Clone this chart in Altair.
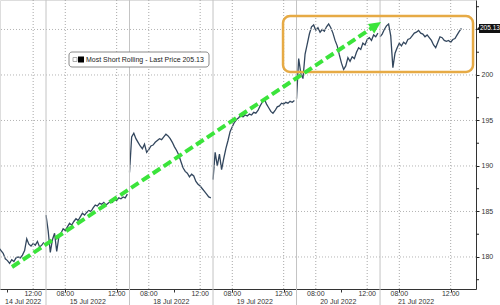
import altair as alt
import pandas as pd

# ---------------- data ----------------
day_labels = ["14 Jul 2022", "15 Jul 2022", "18 Jul 2022", "19 Jul 2022", "20 Jul 2022", "21 Jul 2022"]
first_times = ["09:20", "06:30", "06:30", "06:30", "06:30", "06:30"]
session_open = "06:30"
session_hours = 6.5
step_minutes = 10

px_jul14 = [181.0, 180.7, 180.4, 179.8, 179.6, 179.3, 179.7, 179.5, 179.9, 180.0, 179.9,
            180.2, 180.7, 182.0, 181.4, 181.2, 181.5, 181.3, 181.7, 181.1, 181.3, 181.6]
px_jul15 = [184.6, 182.9, 180.5, 181.9, 182.6, 180.6, 182.2, 182.6, 183.1, 182.9, 183.3,
            183.7, 183.5, 183.9, 184.2, 184.0, 184.4, 184.8, 184.6, 184.9, 185.1, 185.0,
            185.4, 185.7, 185.6, 185.9, 185.8, 186.0, 185.7, 185.9, 186.1, 186.0, 186.3,
            186.2, 186.5, 186.4, 186.6, 186.5, 186.9]
px_jul18 = [189.3, 193.2, 193.6, 193.0, 192.6, 192.2, 191.9, 192.4, 191.5, 191.8, 192.2,
            192.3, 192.6, 192.8, 193.0, 192.9, 193.2, 193.5, 193.3, 193.0, 192.6, 192.1,
            191.7, 191.2, 190.5, 189.8, 189.4, 189.2, 188.8, 189.1, 188.9, 188.3, 188.0,
            187.8, 187.5, 187.2, 186.9, 186.6, 186.5]
px_jul19 = [188.5, 191.5, 190.0, 191.3, 189.6, 190.8, 191.9, 192.8, 193.8, 194.3, 194.8,
            195.1, 195.3, 195.6, 195.4, 195.6, 195.5, 195.7, 195.6, 195.9, 195.8, 196.1,
            196.6, 197.0, 197.3, 196.8, 196.4, 196.0, 195.8, 196.1, 196.5, 196.6, 196.9,
            196.8, 197.0, 196.9, 197.1, 197.0, 197.2]
px_jul20 = [197.4, 201.8, 200.2, 199.6, 202.3, 203.4, 204.5, 205.3, 205.5, 204.9, 205.2,
            204.7, 205.0, 204.8, 205.3, 205.6, 205.2, 204.6, 203.8, 203.2, 202.2, 201.3,
            200.6, 201.0, 201.9, 201.5, 202.0, 201.8, 202.5, 203.0, 202.8, 203.5, 203.3,
            203.9, 204.1, 203.8, 204.4, 204.2, 204.6]
px_jul21 = [204.2, 204.5, 205.0, 205.4, 205.6, 204.3, 200.8, 202.4, 203.0, 203.5, 203.2,
            203.6, 203.4, 203.9, 204.0, 204.3, 204.6, 204.7, 204.9, 204.6, 204.5, 204.2,
            204.4, 204.1, 203.8, 203.3, 203.0, 203.6, 204.2, 204.1, 203.8, 203.7, 203.8,
            203.6, 203.9, 204.0, 204.4, 204.8, 205.13]
series = [px_jul14, px_jul15, px_jul18, px_jul19, px_jul20, px_jul21]

last_price = 205.13
legend_text = "Most Short Rolling - Last Price 205.13"
y_labeled = [180, 185, 190, 195, 200]          # 205 sits under the last-price tag
grid_levels = [180, 185, 190, 195, 200, 205]
y_tick_only = [177.5, 182.5, 187.5, 192.5, 197.5, 202.5, 205, 207.5]
tick_times = ["08:00", "10:00", "12:00"]
label_times = ["08:00", "12:00"]
date_label_times = ["11:13", "09:45", "09:45", "09:45", "09:45", "09:18"]

# annotations (session-time, price)
arrow_start = (3.853, 178.9)
arrow_end = (32.06, 205.34)
arrow_tip = (32.578, 205.82)
box_t = (24.95, 39.74)
box_p = (200.33, 206.48)

x_domain = [2.919, 39.97]
y_domain = [176.48, 208.24]


def hours(hhmm):
    h, m = hhmm.split(":")
    return int(h) + int(m) / 60.0


def session_t(day_idx, hhmm):
    return day_idx * session_hours + hours(hhmm) - hours(session_open)


rows = []
for d, vals in enumerate(series):
    t0 = session_t(d, first_times[d])
    for i, v in enumerate(vals):
        rows.append({"t": t0 + i * step_minutes / 60.0, "price": v, "day": day_labels[d]})
df = pd.DataFrame(rows)

xticks = [session_t(d, tt) for d in range(len(day_labels)) for tt in tick_times]
xticks = [v for v in xticks if x_domain[0] <= v <= x_domain[1]]
tl_rows = [{"t": session_t(d, tt), "s": tt} for d in range(len(day_labels)) for tt in label_times]
tl_rows = [r for r in tl_rows if x_domain[0] <= r["t"] <= x_domain[1]]
tl_df = pd.DataFrame(tl_rows)
seps = [d * session_hours for d in range(1, len(day_labels))]
date_pos = [session_t(d, tt) for d, tt in enumerate(date_label_times)]

xs = alt.Scale(domain=x_domain, nice=False, zero=False)
ys = alt.Scale(domain=y_domain, nice=False, zero=False)
FONT = "Liberation Sans"

line = alt.Chart(df).mark_line(color="#33475e", strokeWidth=1.3, clip=True).encode(
    x=alt.X("t:Q", scale=xs, axis=alt.Axis(
        values=xticks, labels=False, grid=False, title=None,
        tickSize=3, tickColor="#333", domainColor="#333")),
    y=alt.Y("price:Q", scale=ys, axis=alt.Axis(
        orient="right", values=y_labeled, format="d", grid=False, title=None,
        tickSize=3, tickColor="#222", domainColor="#333", labelFont=FONT,
        labelFontSize=7, labelColor="#333", labelPadding=2, labelOverlap=False,
        labelFlush=False)),
    detail="day:N",
)

minor = alt.Chart(pd.DataFrame({"price": y_tick_only})).mark_rule(
    color="#222", strokeWidth=1
).encode(y=alt.Y("price:Q", scale=ys), x=alt.value(476), x2=alt.value(479))

hgrid = alt.Chart(pd.DataFrame({"price": grid_levels})).mark_rule(
    color="#b4b4b4", strokeWidth=1, strokeDash=[1, 2]
).encode(y=alt.Y("price:Q", scale=ys))

vgrid_l = alt.Chart(tl_df).mark_rule(
    color="#a8a8a8", strokeWidth=1, strokeDash=[1, 2]
).encode(x=alt.X("t:Q", scale=xs))

time_lbl = alt.Chart(tl_df).mark_text(
    font=FONT, fontSize=7, color="#333", align="center", baseline="middle"
).encode(x=alt.X("t:Q", scale=xs), y=alt.value(293.5), text="s:N")

sep_l = alt.Chart(pd.DataFrame({"t": seps})).mark_rule(
    color="#c4c4c4", strokeWidth=1
).encode(x=alt.X("t:Q", scale=xs), y=alt.value(0), y2=alt.value(305))

box = alt.Chart(pd.DataFrame({"t": [box_t[0]], "t2": [box_t[1]],
                              "price": [box_p[0]], "p2": [box_p[1]]})).mark_rect(
    fillOpacity=0, stroke="#e6aa45", strokeWidth=2.5, cornerRadius=7
).encode(x=alt.X("t:Q", scale=xs), x2="t2", y=alt.Y("price:Q", scale=ys), y2="p2")

arrow = alt.Chart(pd.DataFrame({"t": [arrow_start[0]], "t2": [arrow_end[0]],
                                "price": [arrow_start[1]], "p2": [arrow_end[1]]})).mark_rule(
    color="#3be43b", strokeWidth=4, strokeDash=[9, 4]
).encode(x=alt.X("t:Q", scale=xs), x2="t2", y=alt.Y("price:Q", scale=ys), y2="p2")

head = alt.Chart(pd.DataFrame({"t": [arrow_tip[0]], "price": [arrow_tip[1]]})).mark_point(
    shape="M0,0 L-0.9,1.9 L0.9,1.9 Z", filled=True, color="#3be43b", opacity=1,
    size=160, angle=56.4
).encode(x=alt.X("t:Q", scale=xs), y=alt.Y("price:Q", scale=ys))

leg_box = alt.Chart(pd.DataFrame({"a": [0]})).mark_rect(
    fill="white", stroke="#8a8a8a", strokeWidth=1, cornerRadius=3
).encode(x=alt.value(69), x2=alt.value(209), y=alt.value(52), y2=alt.value(67))
leg_sq1 = alt.Chart(pd.DataFrame({"a": [0]})).mark_rect(
    fill="white", stroke="#999", strokeWidth=0.8
).encode(x=alt.value(73), x2=alt.value(77), y=alt.value(57.5), y2=alt.value(61.5))
leg_sq2 = alt.Chart(pd.DataFrame({"a": [0]})).mark_rect(
    fill="black"
).encode(x=alt.value(78), x2=alt.value(84), y=alt.value(56.5), y2=alt.value(62.5))
leg_txt = alt.Chart(pd.DataFrame({"s": [legend_text]})).mark_text(
    font=FONT, fontSize=7, color="#222", align="left", baseline="middle"
).encode(x=alt.value(86), y=alt.value(60), text="s:N")

tag_rect = alt.Chart(pd.DataFrame({"a": [0]})).mark_rect(fill="#111").encode(
    x=alt.value(479), x2=alt.value(502), y=alt.value(24), y2=alt.value(33))
tag_tri = alt.Chart(pd.DataFrame({"price": [last_price]})).mark_point(
    shape="triangle-left", filled=True, color="#111", opacity=1, size=20
).encode(x=alt.value(479), y=alt.Y("price:Q", scale=ys))
tag_txt = alt.Chart(pd.DataFrame({"price": [last_price], "s": [f"{last_price:.2f}"]})).mark_text(
    font=FONT, fontSize=6.5, color="white", align="left", baseline="middle"
).encode(x=alt.value(480), y=alt.Y("price:Q", scale=ys), text="s:N")

dates = alt.Chart(pd.DataFrame({"t": date_pos, "s": day_labels})).mark_text(
    font=FONT, fontSize=7, color="#333", align="center", baseline="middle"
).encode(x=alt.X("t:Q", scale=xs), y=alt.value(302), text="s:N")

chart = alt.layer(
    line, minor, hgrid, vgrid_l, sep_l, box, arrow, head,
    leg_box, leg_sq1, leg_sq2, leg_txt, tag_rect, tag_tri, tag_txt, time_lbl, dates
).properties(
    width=476, height=289,
    autosize=alt.AutoSizeParams(type="none"),
    padding={"left": 0, "top": 0, "right": 24, "bottom": 16},
).configure_view(stroke=None).configure(background="white")

chart.save("out.html", embed_options={"renderer": "svg", "actions": False})
